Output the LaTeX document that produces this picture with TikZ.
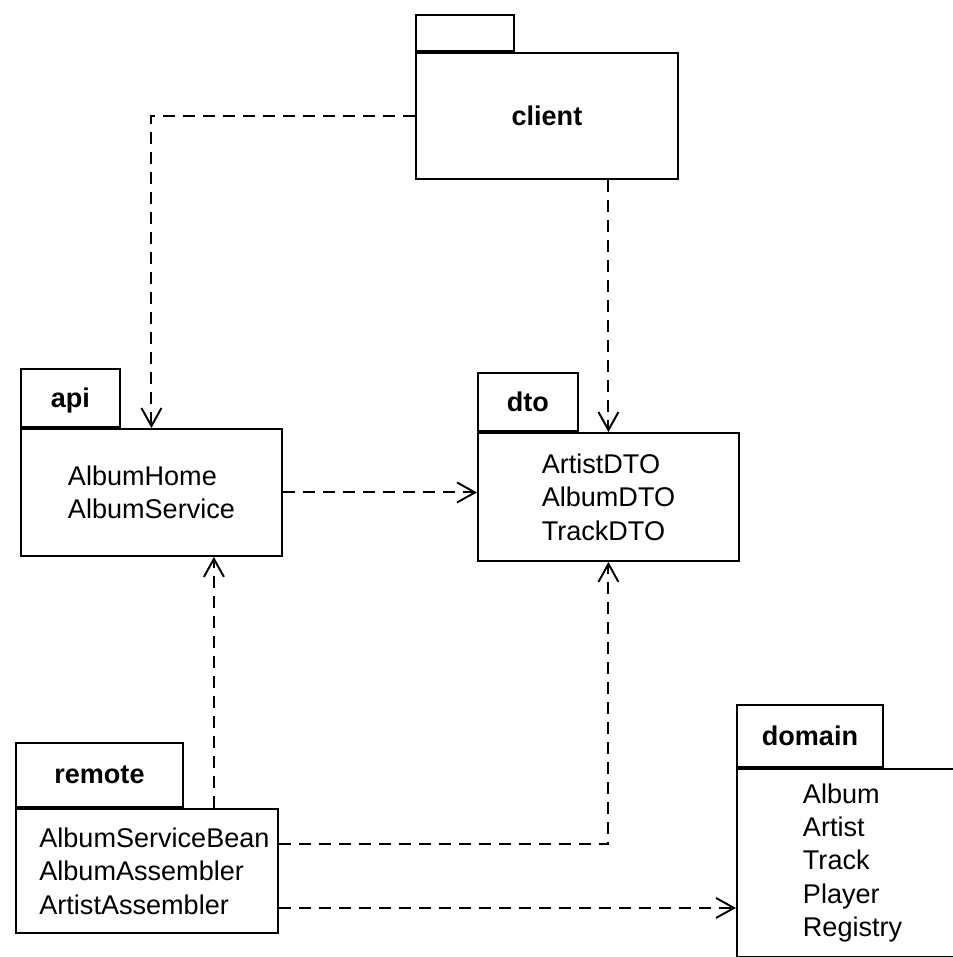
\documentclass[tikz,border=0pt]{standalone}
\usepackage{fontspec}
\setmainfont{Liberation Sans}
\usetikzlibrary{arrows.meta}

\begin{document}
\begin{tikzpicture}[
    x=0.02cm, y=-0.02cm,
    line width=1.1pt,
    >={Straight Barb[length=0.36cm, width=0.4cm]},
    pkgbody/.style={draw, rectangle, anchor=north west, align=left, inner sep=0pt, font=\fontsize{15.4}{19}\selectfont},
    pkgtab/.style={draw, rectangle, anchor=south west, inner sep=0pt, font=\fontsize{15.4}{19}\selectfont\bfseries},
    dep/.style={->, dashed, dash pattern=on 0.24cm off 0.16cm}
]

\clip (0,0) rectangle (953,957);

% Package bodies
\node[pkgbody, minimum width=5.24cm, minimum height=2.52cm] (client) at (415,52) {\bfseries client};
\node[pkgbody, minimum width=5.22cm, minimum height=2.54cm] (api) at (20,428) {AlbumHome\\AlbumService};
\node[pkgbody, minimum width=5.22cm, minimum height=2.56cm] (dto) at (477,432) {ArtistDTO\\AlbumDTO\\TrackDTO};
\node[pkgbody, minimum width=5.24cm, minimum height=2.48cm] (remote) at (15,808) {\hspace*{0.3cm}AlbumServiceBean\\\hspace*{0.3cm}AlbumAssembler\\\hspace*{0.3cm}ArtistAssembler};
\node[pkgbody, minimum height=3.76cm, text width=3cm, inner xsep=1.32cm] (domain) at (736,768) {Album\\Artist\\Track\\Player\\Registry};

% Tabs
\node[pkgtab, minimum width=1.96cm, minimum height=0.72cm] (clienttab) at (client.north west) {};
\node[pkgtab, minimum width=1.98cm, minimum height=1.16cm, text depth=0pt] (apitab) at (api.north west) {api};
\node[pkgtab, minimum width=2.0cm, minimum height=1.16cm, text depth=0pt] (dtotab) at (dto.north west) {dto};
\node[pkgtab, minimum width=3.34cm, minimum height=1.28cm] (remotetab) at (remote.north west) {remote};
\node[pkgtab, minimum width=2.92cm, minimum height=1.24cm] (domaintab) at (domain.north west) {domain};

% Dependencies
\draw[dep] (client.west) -| (api.north);
\draw[dep] (client.south -| dto.north) -- (dto.north);
\draw[dep] (api.east) -- (api.east -| dto.west);
\draw[dep] ([xshift=1.34cm]remote.north) -- ([xshift=1.34cm]remote.north |- api.south);
\draw[dep] ([yshift=0.54cm]remote.east) -| (dto.south);
\draw[dep] ([yshift=-0.74cm]remote.east) -- ([yshift=-0.74cm]remote.east -| domain.west);

\end{tikzpicture}
\end{document}
